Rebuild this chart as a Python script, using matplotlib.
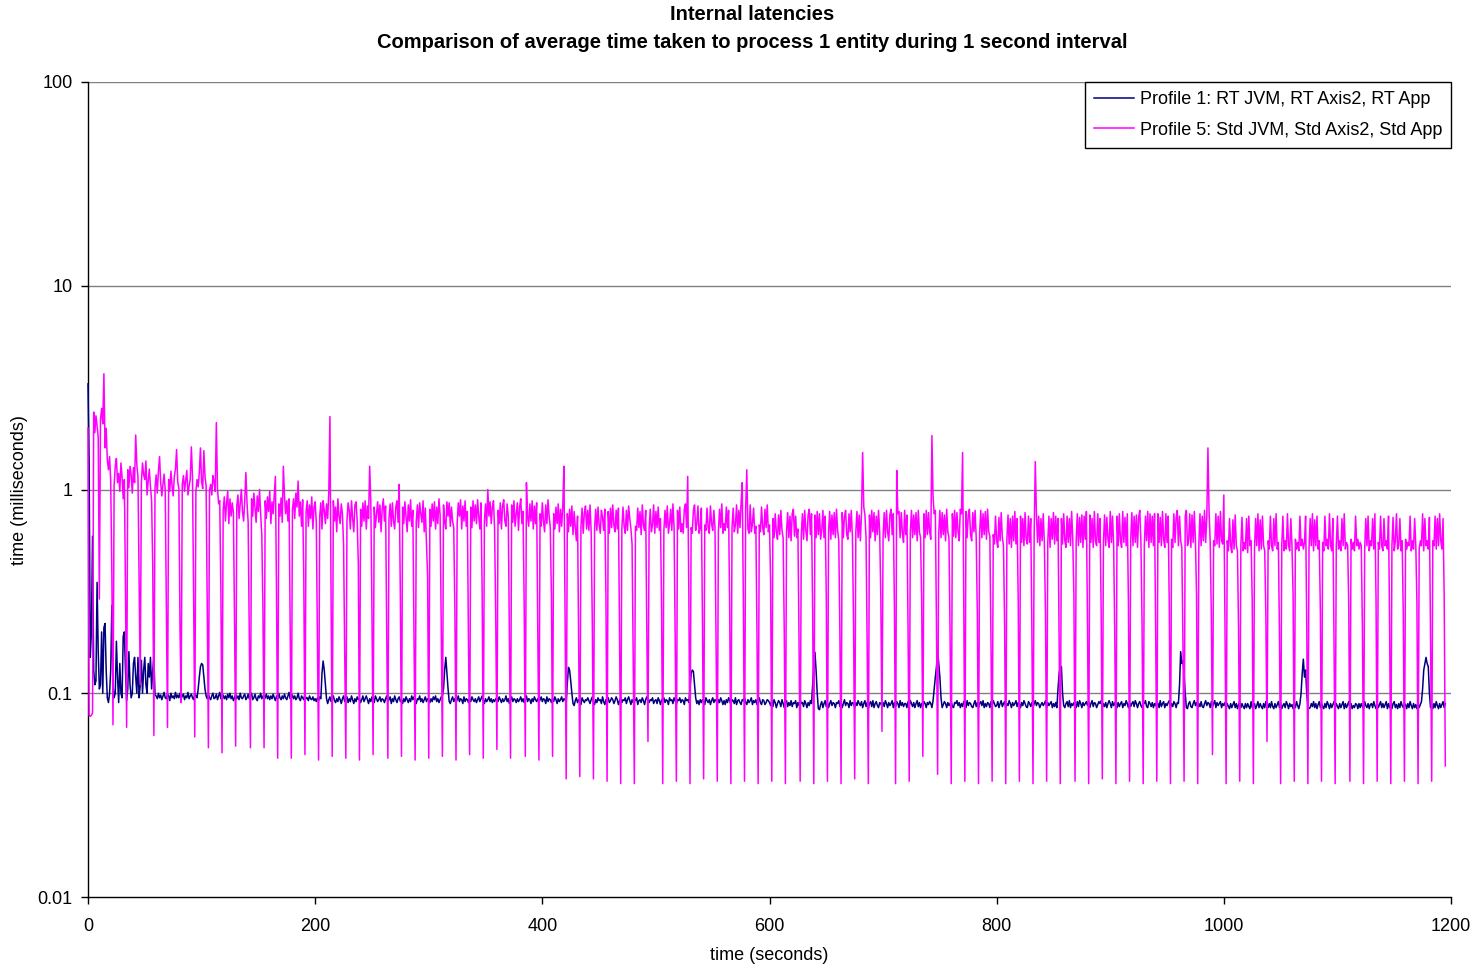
import numpy as np
import matplotlib
matplotlib.use("Agg")
import matplotlib.pyplot as plt
from matplotlib.ticker import FixedLocator, FixedFormatter, NullLocator

plt.rcParams['font.family'] = ['Liberation Sans', 'DejaVu Sans']

title_lines = ["Internal latencies",
               "Comparison of average time taken to process 1 entity during 1 second interval"]
x_label = "time (seconds)"
y_label = "time (milliseconds)"
label_rt = "Profile 1: RT JVM, RT Axis2, RT App"
label_std = "Profile 5: Std JVM, Std Axis2, Std App"
x_ticks = [0, 200, 400, 600, 800, 1000, 1200]
y_ticks = [0.01, 0.1, 1, 10, 100]
y_tick_labels = ["0.01", "0.1", "1", "10", "100"]

# Profile 5 (Std) – one value per second, in microseconds (one line per ~12 s dip cycle)
std_us = """
2000 78 77 78 80 2400 1900 2300 2050 1800 290 2200 2500 2100 3700 1600 2000 1400 1250 1450 1100 380 70
1050 1300 1420 1080 1200 980 1350 1150 900 1120 320 68
1250 1020 1300 1180 960 1280 1080 1850 1320 1150 350 110
1080 1350 1180 1120 1380 940 1100 1260 1030 880 420 62
1020 1180 960 1230 1450 1080 930 1060 1190 990 260 68
1120 980 1230 1040 930 1160 1260 1570 1090 1010 210 90
1060 1170 980 1110 1240 940 1040 1120 1620 1150 300 61
980 1120 1030 1210 1600 1090 1010 1550 1160 1040 260 54
990 1060 940 1170 1090 980 2130 1010 850 880 310 51
790 920 700 860 980 680 900 740 860 770 230 55
830 940 720 850 1000 780 700 880 1210 860 690 190 54
900 740 960 820 690 930 780 1000 760 600 260 54
880 720 920 780 980 680 870 760 930 1160 300 48
850 740 910 690 1300 930 760 880 700 900 210 48
800 900 720 960 820 1100 740 870 660 890 360 50
780 880 660 840 720 920 640 820 870 690 190 47
740 860 640 880 790 680 850 720 960 2280 300 49
880 700 820 620 900 740 680 850 760 540 160 48
700 860 790 640 880 720 620 840 870 700 430 47
800 660 860 700 880 640 830 720 1300 860 250 50
820 650 760 870 690 840 620 800 900 700 830 190 48
720 850 660 860 700 640 820 880 690 1060 300 49
820 680 870 740 620 840 700 890 660 790 200 47
700 840 650 860 760 690 880 620 810 540 380 48
800 660 850 700 870 640 820 680 900 750 210 49
840 700 640 870 740 860 660 820 700 650 260 47
680 860 740 890 640 830 700 880 660 780 170 50
820 650 880 700 840 680 890 740 640 860 320 48
700 850 660 1000 740 870 680 820 880 630 230 53
790 680 860 640 830 890 700 660 850 740 190 48
840 690 880 660 760 860 630 820 900 680 780 280 49
1080 740 660 850 700 880 640 830 680 860 210 47
760 660 860 700 620 840 680 890 740 650 300 49
760 640 820 680 850 620 800 660 830 1300 250 38
760 620 800 660 830 600 780 650 560 740 180 39
660 810 610 770 830 640 790 630 840 620 220 38
640 800 630 820 670 610 790 730 630 800 300 37
780 610 810 650 840 670 620 790 640 810 190 36
640 820 660 610 790 630 830 720 640 540 150 36
660 630 810 650 780 600 840 670 630 790 200 58
640 800 620 670 840 610 780 650 820 630 720 260 36
630 790 650 830 610 680 800 630 850 650 180 37
790 640 820 620 680 610 800 850 650 1160 300 36
650 610 790 840 630 680 830 610 650 810 220 38
670 630 810 650 610 830 680 630 790 650 170 37
620 800 650 850 610 680 630 820 650 790 240 36
650 810 620 670 840 610 790 650 860 1080 280 37
790 1250 640 610 840 620 680 810 610 660 190 36
670 620 820 650 600 800 650 840 620 670 350 37
720 580 760 620 570 750 600 790 630 580 200 36
620 770 580 740 560 760 800 590 740 580 640 180 37
600 760 570 790 630 560 750 800 600 760 250 36
750 580 780 600 760 570 630 790 580 740 300 37
620 780 570 750 600 770 580 800 630 560 190 36
770 580 740 790 600 570 760 620 790 590 220 38
620 780 580 750 560 760 1520 820 750 580 170 36
750 580 790 620 770 560 740 600 790 620 300 65
590 770 580 790 620 560 750 800 600 760 260 36
1240 760 780 580 770 610 550 790 600 750 200 37
620 790 580 750 600 770 560 790 620 580 280 49
760 580 790 600 770 620 570 1840 920 760 790 220 40
610 790 580 770 600 750 560 800 620 580 190 36
760 590 790 580 770 620 560 800 760 1520 300 37
780 580 750 800 600 560 770 620 790 580 240 36
610 790 580 760 600 780 570 800 620 590 180 37
600 540 740 560 520 730 560 770 580 530 220 36
570 750 540 720 520 740 560 780 540 720 280 37
740 550 720 530 770 570 540 740 550 720 200 36
600 1370 760 550 740 530 720 560 760 540 240 37
550 740 520 720 570 770 540 740 560 720 180 36
720 540 760 560 520 740 550 720 530 780 570 300 37
560 760 530 730 550 750 520 740 570 780 210 36
750 550 720 520 780 560 530 760 550 720 250 38
550 750 530 730 570 520 780 550 740 530 190 36
740 530 760 560 520 780 550 730 530 760 280 37
560 770 530 740 550 750 520 730 790 550 220 36
530 740 560 780 520 760 550 740 530 760 200 37
760 550 730 530 780 570 520 760 550 740 260 36
570 520 760 550 730 790 530 740 560 520 180 37
740 790 530 560 760 520 750 550 780 560 300 36
540 760 530 740 560 790 550 730 1600 780 550 240 50
560 530 760 540 740 520 780 560 540 940 220 36
560 500 720 530 490 710 510 750 530 500 200 37
530 730 500 550 510 720 490 740 530 560 280 36
510 720 530 760 500 710 510 740 530 500 240 58
560 510 740 530 500 720 530 760 510 550 190 36
530 740 500 560 510 760 530 500 720 530 300 37
570 510 550 500 740 530 570 510 550 740 220 36
510 720 530 760 500 710 530 740 510 560 250 37
550 500 740 530 570 510 760 530 500 720 180 36
530 740 510 560 500 720 530 760 510 550 530 270 37
570 510 550 500 740 530 570 510 550 530 210 36
510 720 530 740 500 560 530 720 510 760 290 37
550 510 740 530 500 720 530 560 510 740 200 36
530 730 500 560 760 510 530 720 500 560 240 37
570 510 550 530 740 500 560 510 720 530 280 36
510 560 530 760 500 720 530 560 510 730 190 37
560 530 740 510 720 530 760 560 510 720 300 44
"""

# Profile 1 (RT) – one value per second, in microseconds (20 s per line)
rt_us = """
3300 1300 150 200 590 130 110 115 350 160 105 110 200 100 210 220 130 95 90 100
130 270 110 95 100 180 120 90 140 100 95 190 200 130 92 105 160 110 95 100
140 150 120 100 150 95 110 145 100 130 150 110 100 140 120 150 105 130 150 98
97 94 100 95 98 93 97 101 95 94 99 97 92 100 95 97 94 101 95 98
95 100 94 97 99 93 97 95 101 94 97 99 95 93 100 97 95 105 120 135
140 138 120 105 97 94 99 95 93 97 100 94 95 99 93 97 101 94 95 98
94 97 93 99 95 100 94 97 92 95 99 94 97 93 100 95 94 97 99 93
95 99 94 97 100 93 95 99 94 92 97 95 100 94 97 93 95 99 94 97
93 97 94 99 95 92 97 94 100 95 93 97 94 99 95 93 97 101 94 95
98 94 97 93 95 100 94 92 97 95 93 99 94 95 92 97 94 93 96 92
94 91 95 92 96 94 125 144 130 110 94 89 93 96 91 94 97 92 90 94
91 96 93 89 94 97 91 93 96 90 94 91 97 93 89 94 91 96 93 94
90 93 97 91 94 97 93 89 94 91 96 93 90 97 94 91 93 96 91 94
93 90 94 97 91 93 96 89 94 91 97 93 90 94 96 91 93 89 94 91
96 93 90 94 91 97 93 96 91 89 94 93 97 91 94 90 93 96 91 94
93 90 94 91 96 93 97 91 94 90 93 96 97 105 130 150 125 105 91 89
93 96 91 94 90 93 97 91 94 93 89 96 91 94 93 90 94 91 96 93
91 94 90 93 96 91 94 97 93 89 94 91 93 96 91 94 90 93 91 94
94 91 96 93 90 94 91 93 97 91 94 89 93 96 91 94 93 90 94 91
93 96 91 94 90 93 97 91 94 93 89 94 91 96 93 91 94 90 93 96
91 94 93 89 96 91 94 93 90 94 91 96 93 89 94 91 93 96 91 94
93 90 112 134 130 115 100 89 87 92 95 90 93 92 88 95 92 90 93 92
95 92 89 93 96 91 88 93 90 95 92 93 89 96 91 88 93 92 95 90
92 95 93 89 92 96 93 88 92 95 90 93 92 95 89 93 96 92 88 93
90 93 92 95 88 92 93 90 95 92 88 93 96 92 90 93 92 95 89 92
93 89 95 92 88 93 92 95 90 93 92 88 95 92 93 89 95 92 88 93
92 95 90 93 92 88 95 92 93 90 105 125 130 128 110 95 89 92 88 93
90 93 92 88 95 92 90 93 88 92 95 90 93 92 88 93 90 95 92 88
92 88 93 90 95 92 88 93 92 89 95 88 92 93 90 88 93 92 95 90
88 93 90 92 95 88 92 90 93 88 92 95 90 88 93 92 88 90 93 92
90 87 92 86 93 90 85 89 92 90 86 93 89 85 90 92 86 90 87 92
86 90 89 92 85 90 87 93 89 90 86 92 89 85 90 87 92 89 110 140
159 130 100 84 83 88 91 85 89 92 86 90 85 89 92 87 90 89 85 90
89 92 86 90 85 89 93 87 90 89 85 92 87 90 89 85 90 87 92 89
87 91 85 89 92 86 90 84 89 91 86 92 85 89 91 87 85 90 89 86
90 86 92 89 85 90 87 89 92 85 90 86 91 89 85 92 87 90 86 89
89 85 91 87 92 89 86 90 85 89 92 86 90 85 89 87 91 89 85 90
88 91 89 85 92 105 120 135 163 140 120 95 85 88 91 89 85 90 87 89
91 86 85 90 89 92 87 90 85 89 86 91 89 85 92 87 90 89 86 85
89 92 86 90 85 89 91 87 92 85 89 86 90 89 85 91 87 92 89 86
87 91 85 89 92 86 89 91 85 89 87 92 89 85 90 87 89 92 86 90
89 85 90 87 92 89 86 85 91 89 86 90 85 89 92 87 90 89 85 88
90 87 89 92 85 90 87 89 91 85 89 86 90 85 105 125 136 135 100 87
85 89 91 86 92 85 89 87 90 89 85 91 86 92 89 85 90 87 89 91
87 91 85 89 92 86 90 89 85 88 91 89 92 85 89 86 90 85 89 92
89 85 91 87 89 92 85 90 86 89 91 85 89 87 92 89 85 90 86 89
91 86 92 89 85 89 91 87 85 90 89 92 86 85 91 89 86 90 85 89
87 91 89 85 92 86 89 91 85 89 87 90 92 85 89 86 91 89 85 90
89 110 160 140 145 125 100 85 84 89 91 86 85 89 92 87 90 85 89 86
91 86 85 89 92 87 90 89 85 91 86 89 92 85 90 87 89 91 85 89
87 90 85 89 86 84 89 85 88 91 85 89 84 88 91 85 89 86 84 89
85 89 86 84 91 85 88 89 84 87 91 85 89 86 84 89 85 91 88 85
89 85 91 86 84 89 85 88 91 85 89 84 87 89 85 91 88 84 89 86
88 84 89 85 91 87 84 89 100 125 147 120 130 100 86 84 85 89 86 91
85 89 84 88 91 85 89 86 84 89 85 91 88 84 89 85 88 91 85 89
86 84 89 85 88 91 84 89 85 88 91 85 89 84 87 85 89 88 84 89
85 89 86 84 91 87 85 89 84 88 89 85 91 87 84 89 85 88 91 85
89 85 88 91 84 89 85 88 84 89 91 85 88 84 89 85 91 87 85 89
88 84 89 85 91 87 84 89 85 88 84 89 85 88 91 105 130 140 150 140
135 100 85 88 84 89 85 91 87 84 89 85 88 91 85 89
"""

std_ms = np.array(std_us.split(), dtype=float) / 1000.0
rt_ms = np.array(rt_us.split(), dtype=float) / 1000.0
t_std = np.arange(len(std_ms))
t_rt = np.arange(len(rt_ms))

W, H = 1480, 967
fig = plt.figure(figsize=(W / 100, H / 100), dpi=100)
ax = fig.add_axes([88 / W, 1 - 897 / H, (1451 - 88) / W, (897 - 82) / H])

ax.plot(t_rt, rt_ms, color="#000080", lw=1.1, label=label_rt, zorder=3, clip_on=False)
ax.plot(t_std, std_ms, color="#FF00FF", lw=1.1, label=label_std, zorder=4, clip_on=False)

ax.set_yscale("log")
ax.set_ylim(0.01, 100)
ax.set_xlim(0, 1200)
ax.yaxis.set_major_locator(FixedLocator(y_ticks))
ax.yaxis.set_major_formatter(FixedFormatter(y_tick_labels))
ax.yaxis.set_minor_locator(NullLocator())
ax.xaxis.set_major_locator(FixedLocator(x_ticks))
ax.set_xticklabels([str(v) for v in x_ticks])

for y in y_ticks[1:]:
    ax.axhline(y, color="#808080", lw=1.0, zorder=1)

for s in ["top", "right"]:
    ax.spines[s].set_visible(False)
for s in ["left", "bottom"]:
    ax.spines[s].set_color("black")
    ax.spines[s].set_linewidth(1.0)
    ax.spines[s].set_zorder(2.5)

ax.tick_params(axis="both", which="major", direction="out", length=5, width=1,
               colors="black", labelsize=13)
ax.tick_params(axis="y", pad=6)
ax.tick_params(axis="x", pad=10)

leg = ax.legend(loc="upper right", borderaxespad=0, frameon=True, fancybox=False,
                edgecolor="black", framealpha=1, fontsize=13, handlelength=2.2,
                handletextpad=0.3, labelspacing=0.75, borderpad=0.5)
leg.get_frame().set_linewidth(1.0)
leg.set_zorder(10)

fig.text(752 / W, 1 - 15 / H, title_lines[0], ha="center", va="center",
         fontsize=14.5, fontweight="bold")
fig.text(752 / W, 1 - 43 / H, title_lines[1], ha="center", va="center",
         fontsize=14.5, fontweight="bold")
fig.text(20 / W, 1 - 490 / H, y_label, rotation=90, ha="center", va="center", fontsize=13)
fig.text(769 / W, 1 - 955 / H, x_label, ha="center", va="center", fontsize=13)

fig.savefig("out.png", dpi=100, facecolor="white")
